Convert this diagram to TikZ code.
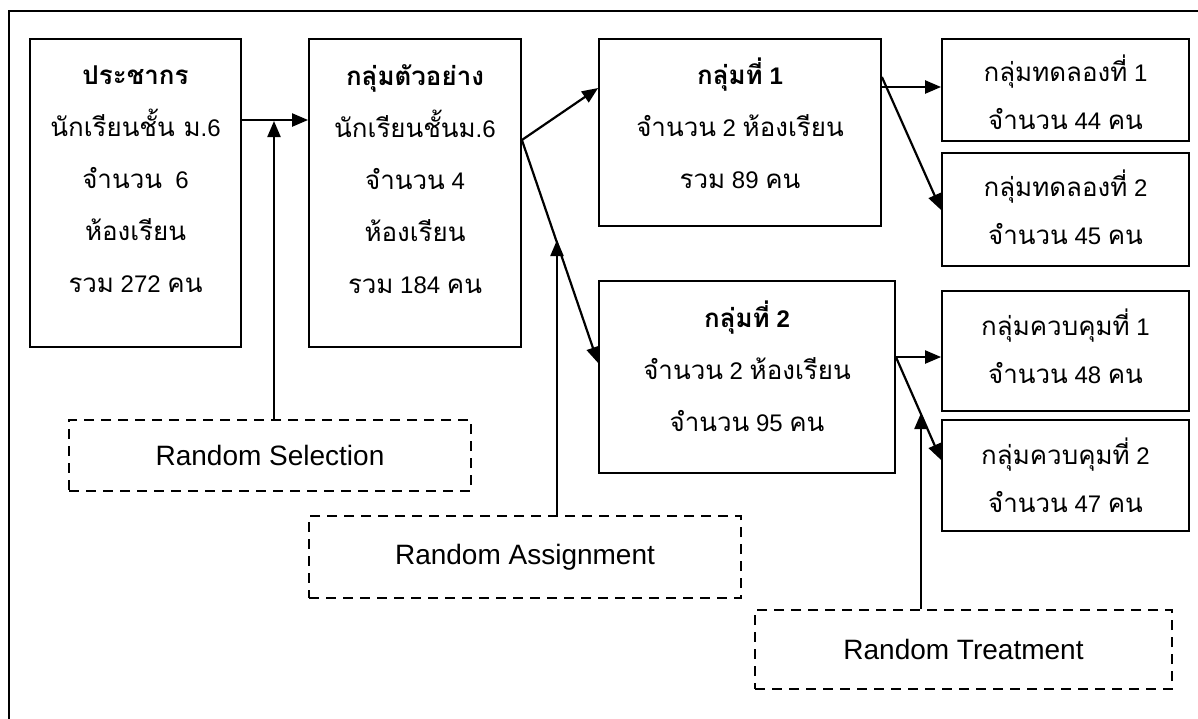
\documentclass[tikz,border=0pt]{standalone}
\usepackage{fontspec}
\setmainfont{Liberation Sans}
\newfontfamily\thaifont[Script=Thai, Scale=1.08]{Loma}
\usetikzlibrary{arrows.meta,calc}
\newcommand\tx[1]{{\thaifont #1}}

\tikzset{
  box/.style={draw, line width=1.8pt, inner sep=0pt},
  dbox/.style={draw, line width=1.8pt, dash pattern=on 10pt off 7pt, inner sep=0pt,
    font=\fontsize{28}{34}\selectfont},
  lines/.style={align=center, inner sep=0pt, font=\fontsize{24}{52}\selectfont},
  slines/.style={align=center, inner sep=0pt, font=\fontsize{24}{48}\selectfont},
  arr/.style={line width=2.2pt, -{Triangle[length=16pt,width=13pt]}}
}

\begin{document}
\begin{tikzpicture}[x=1pt,y=-1pt]
\useasboundingbox (0,0) rectangle (1198,718);
\clip (0,0) rectangle (1198,718);

% outer frame (runs past the right and bottom edges)
\draw[line width=2pt] (9,11) rectangle (1220,740);

% boxes
\node[box, minimum width=211pt, minimum height=308pt] (b1) at (135.5,193) {};
\node[box, minimum width=212pt, minimum height=308pt] (b2) at (415,193) {};
\node[box, minimum width=282pt, minimum height=187pt] (b3) at (740,132.5) {};
\node[box, minimum width=247pt, minimum height=102pt] (b4) at (1065.5,90) {};
\node[box, minimum width=247pt, minimum height=113pt] (b5) at (1065.5,209.5) {};
\node[box, minimum width=296pt, minimum height=192pt] (b6) at (747,377) {};
\node[box, minimum width=247pt, minimum height=120pt] (b7) at (1065.5,351) {};
\node[box, minimum width=247pt, minimum height=111pt] (b8) at (1065.5,475.5) {};

% box texts
\node[lines] (b1t) at (135.5,179) {\textbf{\tx{ประชากร}}\\\tx{นักเรียนชั้น ม}.6\\\tx{จำนวน}\ \ 6\\\tx{ห้องเรียน}\\\tx{รวม} 272 \tx{คน}};
\node[lines] (b2t) at (415,179) {\textbf{\tx{กลุ่มตัวอย่าง}}\\\tx{นักเรียนชั้นม}.6\\\tx{จำนวน} 4\\\tx{ห้องเรียน}\\\tx{รวม} 184 \tx{คน}};
\node[lines] (b3t) at (740,123.5) {\textbf{\tx{กลุ่มที่} 1}\\\tx{จำนวน} 2 \tx{ห้องเรียน}\\\tx{รวม} 89 \tx{คน}};
\node[slines] (b4t) at (1065.5,92.5) {\tx{กลุ่มทดลองที่} 1\\\tx{จำนวน} 44 \tx{คน}};
\node[slines] (b5t) at (1065.5,207) {\tx{กลุ่มทดลองที่} 2\\\tx{จำนวน} 45 \tx{คน}};
\node[lines] (b6t) at (747,366.5) {\textbf{\tx{กลุ่มที่} 2}\\\tx{จำนวน} 2 \tx{ห้องเรียน}\\\tx{จำนวน} 95 \tx{คน}};
\node[slines] (b7t) at (1065.5,346) {\tx{กลุ่มควบคุมที่} 1\\\tx{จำนวน} 48 \tx{คน}};
\node[slines] (b8t) at (1065.5,475.5) {\tx{กลุ่มควบคุมที่} 2\\\tx{จำนวน} 47 \tx{คน}};

% dashed random boxes
\node[dbox, minimum width=402pt, minimum height=71pt] (rs) at (270,455.5) {Random Selection};
\node[dbox, minimum width=432pt, minimum height=82pt] (ra) at (525,557) {Random Assignment};
\node[dbox, minimum width=417pt, minimum height=79pt] (rt) at (963.5,649.5) {Random Treatment};

% points where the random steps meet the flow lines
\coordinate (selhit) at (274,121);
\coordinate (asshit) at (557,240);
\coordinate (trthit) at (921,413);

% flow
\draw[arr] ([yshift=73pt]b1.east) -- ([yshift=73pt]b2.west);
\draw[arr] ([yshift=53pt]b2.east) -- ([yshift=44.5pt]b3.west);
\draw[arr] ([yshift=53pt]b2.east) -- ([yshift=14pt]b6.west);
\draw[arr] ([yshift=45.5pt]b3.east) -- ([yshift=3pt]b4.west);
\draw[arr] ([yshift=55.5pt]b3.east) -- ([yshift=-0.5pt]b5.west);
\draw[arr] ([yshift=20pt]b6.east) -- ([yshift=-6pt]b7.west);
\draw[arr] ([yshift=20pt]b6.east) -- ([yshift=15.5pt]b8.west);

% random steps
\draw[arr] ([xshift=4pt]rs.north) -- (selhit);
\draw[arr] ([xshift=32pt]ra.north) -- (asshit);
\draw[arr] ([xshift=-42.5pt]rt.north) -- (trthit);
\end{tikzpicture}
\end{document}
